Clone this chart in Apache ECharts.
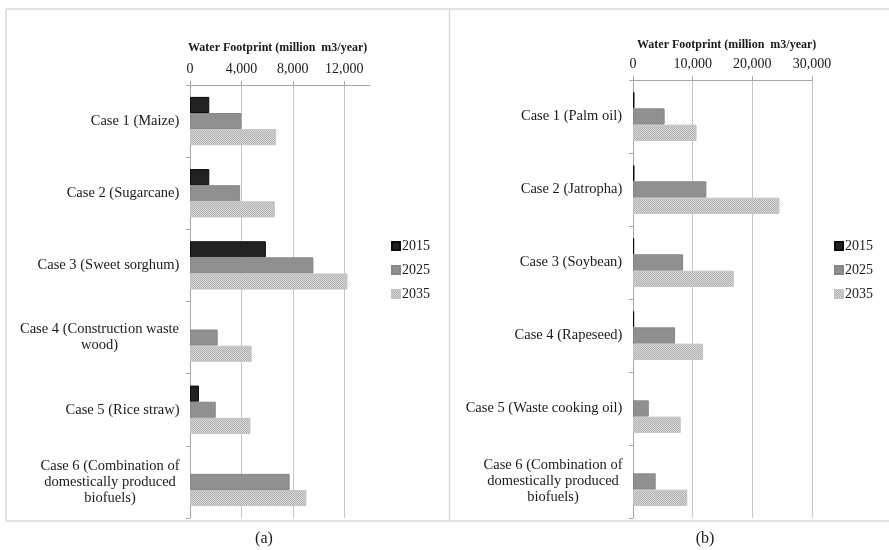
<!DOCTYPE html>
<html>
<head>
<meta charset="utf-8">
<script src="https://cdn.jsdelivr.net/npm/echarts@6/dist/echarts.min.js"></script>
<style>html,body{margin:0;padding:0;background:#fff}#c{width:889px;height:550px}</style>
</head>
<body>
<div id="c"></div>
<script>
// ---- data ----
const categoriesA = ['Case 1 (Maize)', 'Case 2 (Sugarcane)', 'Case 3 (Sweet sorghum)', 'Case 4 (Construction waste\nwood)', 'Case 5 (Rice straw)', 'Case 6 (Combination of\ndomestically produced\nbiofuels)'];
const a2015 = [1500, 1500, 5900, 0, 700, 0];
const a2025 = [4000, 3900, 9600, 2150, 2000, 7750];
const a2035 = [6700, 6600, 12250, 4800, 4700, 9050];

const categoriesB = ['Case 1 (Palm oil)', 'Case 2 (Jatropha)', 'Case 3 (Soybean)', 'Case 4 (Rapeseed)', 'Case 5 (Waste cooking oil)', 'Case 6 (Combination of\ndomestically produced\nbiofuels)'];
const b2015 = [250, 250, 200, 200, 0, 0];
const b2025 = [5300, 12300, 8400, 7050, 2650, 3800];
const b2035 = [10650, 24550, 16900, 11750, 8000, 9100];

const years = ['2015', '2025', '2035'];
const axisTitle = 'Water Footprint (million  m3/year)';
const panelLabels = ['(a)', '(b)'];

// ---- styles ----
const FONT = '"Liberation Serif", "Times New Roman", serif';
const TXT = '#1a1a1a';
const CAT_SIZE = 14.5;
function stipple() {
  const c = document.createElement('canvas');
  c.width = 2; c.height = 2;
  const x = c.getContext('2d');
  x.fillStyle = '#dadada'; x.fillRect(0, 0, 2, 2);
  x.fillStyle = '#afafaf'; x.fillRect(0, 0, 1, 1); x.fillRect(1, 1, 1, 1);
  return c;
}
const pat = { image: stipple(), repeat: 'repeat' };
const barStyles = [
  { color: '#222222', borderColor: '#0a0a0a', borderWidth: 1 },
  { color: '#909090', borderColor: '#868686', borderWidth: 1 },
  { color: pat, borderColor: '#c4c4c4', borderWidth: 1 }
];

const mctx = document.createElement('canvas').getContext('2d');
mctx.font = CAT_SIZE + 'px ' + FONT;
function richFor(cats) {
  const rich = {};
  cats.forEach((c, i) => {
    const w = Math.max(...c.split('\n').map(l => mctx.measureText(l).width));
    rich['c' + i] = { width: Math.ceil(w) + 1, align: 'center', fontFamily: FONT, fontSize: CAT_SIZE, color: TXT, lineHeight: 16 };
  });
  return rich;
}
function catFormatter(cats) {
  return (v) => {
    const idx = cats.indexOf(v);
    return v.split('\n').map(l => '{c' + idx + '|' + l + '}').join('\n');
  };
}

function xAxisCfg(gi, max, interval) {
  return {
    type: 'value', gridIndex: gi, position: 'top', min: 0, max: max, interval: interval,
    axisLine: { show: true, lineStyle: { color: '#a6a6a6', width: 1 } },
    axisTick: { show: true, length: 4, lineStyle: { color: '#a6a6a6' } },
    axisLabel: {
      margin: 9, fontFamily: FONT, fontSize: 14, color: TXT, showMaxLabel: max % interval === 0,
      formatter: v => (v % interval === 0 ? v.toLocaleString('en-US') : '')
    },
    splitLine: { show: true, showMaxLine: max % interval === 0, lineStyle: { color: '#c6c6c6', width: 1 } }
  };
}
function yAxisCfg(gi, cats) {
  return {
    type: 'category', gridIndex: gi, data: cats, inverse: true,
    axisLine: { show: true, lineStyle: { color: '#a6a6a6', width: 1 } },
    axisTick: { show: true, length: 4, lineStyle: { color: '#a6a6a6' } },
    axisLabel: { margin: 10, formatter: catFormatter(cats), rich: richFor(cats), fontFamily: FONT, fontSize: CAT_SIZE, color: TXT }
  };
}
function seriesFor(gi, arrs) {
  return arrs.map((d, k) => ({
    name: years[k], type: 'bar', xAxisIndex: gi, yAxisIndex: gi,
    data: d.map(v => (v === 0 ? null : v)),
    barGap: '0%', barCategoryGap: '33%', itemStyle: barStyles[k], silent: true
  }));
}
function legendCfg(left, top) {
  return {
    orient: 'vertical', left: left, top: top, itemWidth: 8, itemHeight: 8, itemGap: 10,
    icon: 'rect', data: years, selectedMode: false,
    textStyle: { fontFamily: FONT, fontSize: 14, color: TXT, padding: [0, 0, 0, -3] }
  };
}
const frame = { stroke: '#d9d9d9', lineWidth: 1.5 };
function line(x1, y1, x2, y2) { return { type: 'line', shape: { x1, y1, x2, y2 }, style: frame, silent: true }; }
function txt(t, x, y, font) {
  return { type: 'text', x: x, y: y, silent: true, style: { text: t, font: font, fill: TXT, textAlign: 'left', textVerticalAlign: 'middle' } };
}
function ctxt(t, x, y, font) {
  const o = txt(t, x, y, font); o.style.textAlign = 'center'; return o;
}

const chart = echarts.init(document.getElementById('c'), null, { renderer: 'canvas' });
chart.setOption({
  animation: false,
  backgroundColor: '#fff',
  grid: [
    { left: 190, top: 85, width: 180, height: 433 },
    { left: 633, top: 80, width: 179, height: 438 }
  ],
  xAxis: [xAxisCfg(0, 14000, 4000), xAxisCfg(1, 30000, 10000)],
  yAxis: [yAxisCfg(0, categoriesA), yAxisCfg(1, categoriesB)],
  legend: [legendCfg(386, 234), legendCfg(829, 234)],
  series: [].concat(seriesFor(0, [a2015, a2025, a2035]), seriesFor(1, [b2015, b2025, b2035])),
  graphic: [
    line(6, 9, 889, 9), line(6, 9, 6, 521), line(449.5, 9, 449.5, 521), line(6, 521, 889, 521),
    txt(axisTitle, 188, 48, 'bold 12px ' + FONT),
    txt(axisTitle, 637, 45, 'bold 12px ' + FONT),
    ctxt(panelLabels[0], 264, 539, '16px ' + FONT),
    ctxt(panelLabels[1], 705, 539, '16px ' + FONT)
  ]
});
</script>
</body>
</html>
